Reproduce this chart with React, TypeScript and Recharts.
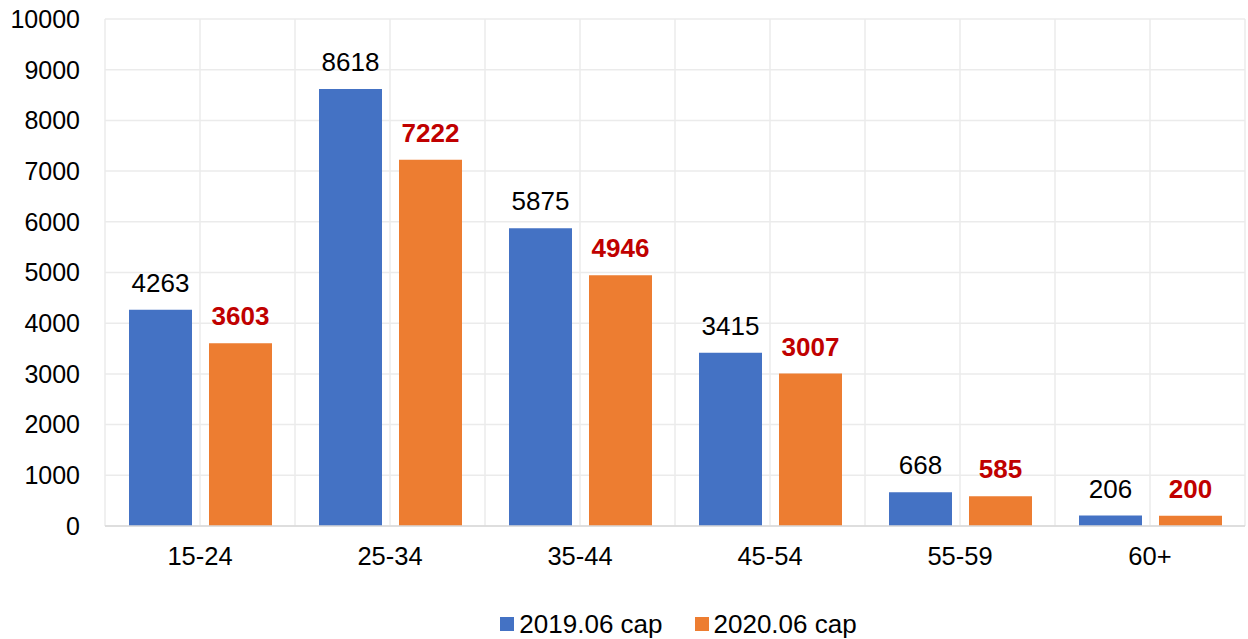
import React from 'react';
import { BarChart, Bar, XAxis, YAxis, CartesianGrid, Legend, LabelList } from 'recharts';

const categories = ['15-24', '25-34', '35-44', '45-54', '55-59', '60+'];
const values2019 = [4263, 8618, 5875, 3415, 668, 206];
const values2020 = [3603, 7222, 4946, 3007, 585, 200];
const yTicks = [0, 1000, 2000, 3000, 4000, 5000, 6000, 7000, 8000, 9000, 10000];
const seriesNames = ['2019.06 cap', '2020.06 cap'];
const colors = ['#4472C4', '#ED7D31'];

const data = categories.map((c, i) => ({ name: c, a: values2019[i], b: values2020[i] }));

const FONT = '"Liberation Sans", Arial, sans-serif';
const FS = 26;

const renderLegend = () => (
  <div style={{ display: 'flex', justifyContent: 'center', alignItems: 'center', height: 30, paddingLeft: 112, boxSizing: 'border-box', fontFamily: FONT, fontSize: FS, color: '#000' }}>
    {seriesNames.map((n, i) => (
      <div key={n} style={{ display: 'flex', alignItems: 'center', marginLeft: i === 0 ? 0 : 32 }}>
        <span style={{ display: 'inline-block', width: 14, height: 14, background: colors[i], marginRight: 5 }} />
        <span style={{ lineHeight: '30px' }}>{n}</span>
      </div>
    ))}
  </div>
);

export default function App() {
  return (
    <div style={{ position: 'absolute', left: 0, top: 0 }}>
      <BarChart
        width={1248}
        height={639}
        data={data}
        margin={{ top: 19, right: 3, bottom: 0, left: 0 }}
        barCategoryGap={24}
        barGap={17}
      >
        <CartesianGrid
          stroke="#ebebeb"
          strokeWidth={1.5}
          verticalCoordinatesGenerator={({ offset }: any) =>
            Array.from({ length: categories.length * 2 + 1 }, (_, i) => offset.left + (i * offset.width) / (categories.length * 2))
          }
        />
        <XAxis
          dataKey="name"
          height={83}
          tickLine={false}
          tickSize={0}
          tickMargin={21}
          axisLine={{ stroke: '#d9d9d9', strokeWidth: 1.5 }}
          tick={{ fill: '#000', fontSize: 25.5, fontFamily: FONT }}
        />
        <YAxis
          width={105}
          domain={[0, 10000]}
          ticks={yTicks}
          interval={0}
          axisLine={false}
          tickLine={false}
          tickSize={0}
          tickMargin={25}
          tick={{ fill: '#000', fontSize: 25, fontFamily: FONT }}
        />
        <Legend verticalAlign="bottom" height={30} content={renderLegend} />
        <Bar dataKey="a" name={seriesNames[0]} fill={colors[0]} isAnimationActive={false}>
          <LabelList dataKey="a" position="top" offset={18} style={{ fill: '#000', fontSize: FS, fontFamily: FONT }} />
        </Bar>
        <Bar dataKey="b" name={seriesNames[1]} fill={colors[1]} isAnimationActive={false}>
          <LabelList dataKey="b" position="top" offset={18} style={{ fill: '#C00000', fontSize: FS, fontWeight: 'bold', fontFamily: FONT }} />
        </Bar>
      </BarChart>
    </div>
  );
}
